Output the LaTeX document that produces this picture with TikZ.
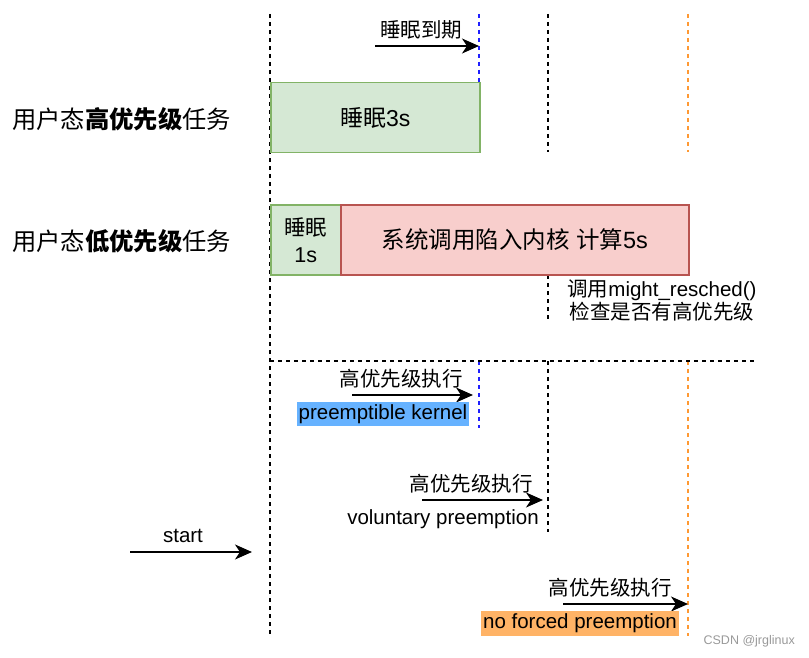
\documentclass[tikz,border=0pt]{standalone}
\usepackage{fontspec}
\setmainfont{Liberation Sans}
\newfontfamily\cjk{Noto Sans CJK SC}
\newcommand\zh[1]{{\cjk #1}}
\usetikzlibrary{arrows.meta}
\definecolor{gfill}{HTML}{D5E8D4}
\definecolor{gline}{HTML}{82B366}
\definecolor{rfill}{HTML}{F8CECC}
\definecolor{rline}{HTML}{B85450}
\definecolor{bline}{HTML}{2020FF}
\definecolor{oline}{HTML}{FF9933}
\definecolor{bbg}{HTML}{66B2FF}
\definecolor{obg}{HTML}{FFB366}
\begin{document}
\begin{tikzpicture}[x=1pt,y=-1pt,
  vline/.style={dash pattern=on 4pt off 4pt, line width=1.4pt},
  arr/.style={-{Stealth[length=17pt,width=15pt,inset=5pt]}, line width=1.8pt},
  lbl/.style={font=\fontsize{20.5}{23}\selectfont, inner sep=0pt},
  big/.style={font=\fontsize{24.3}{28}\selectfont, inner sep=0pt},
  gbox/.style={draw=gline, fill=gfill, line width=1.5pt, inner sep=0pt, anchor=north west, align=center},
  rbox/.style={draw=rline, fill=rfill, line width=1.5pt, inner sep=0pt, anchor=north west, align=center},
]
\useasboundingbox (0,0) rectangle (809,658);

% vertical and horizontal dashed lines
\coordinate (m0) at (270,14); \coordinate (m1) at (270,634);
\draw[vline] (m0) -- (m1);
\coordinate (b0) at (479,14); \coordinate (b1) at (479,152);
\coordinate (b2) at (479,361); \coordinate (b3) at (479,428);
\draw[vline, bline] (b0) -- (b1);
\draw[vline, bline] (b2) -- (b3);
\coordinate (k0) at (548,14); \coordinate (k1) at (548,152);
\coordinate (k2) at (548,275); \coordinate (k3) at (548,320);
\coordinate (k4) at (548,361); \coordinate (k5) at (548,532);
\draw[vline] (k0) -- (k1);
\draw[vline] (k2) -- (k3);
\draw[vline] (k4) -- (k5);
\coordinate (o0) at (688,14); \coordinate (o1) at (688,152);
\coordinate (o2) at (688,361); \coordinate (o3) at (688,636);
\draw[vline, oline] (o0) -- (o1);
\draw[vline, oline] (o2) -- (o3);
\coordinate (h0) at (270,361); \coordinate (h1) at (757,361);
\draw[vline] (h0) -- (h1);

% row labels
\node[big, anchor=west] (hp) at (12,119) {\zh{用户态\textbf{高优先级}任务}};
\node[big, anchor=west] (lp) at (12,241) {\zh{用户态\textbf{低优先级}任务}};

% high priority task
\node[gbox, minimum width=209pt, minimum height=70pt, font=\fontsize{23}{28}\selectfont] (s3) at (270,82) {\zh{睡眠}3s};
\coordinate (a0) at (375,46); \coordinate (a1) at (479,46);
\draw[arr] (a0) -- (a1);
\node[lbl] (t1) at (421,30) {\zh{睡眠到期}};

% low priority task
\node[gbox, minimum width=70pt, minimum height=70pt, font=\fontsize{21.5}{27}\selectfont] (s1) at (270,204) {\zh{睡眠}\\1s};
\node[rbox, minimum width=348pt, minimum height=70pt, font=\fontsize{23.5}{28}\selectfont] (sc) at (340,204) {\zh{系统调用陷入内核} \zh{计算}5s};
\node[lbl, align=center] (note) at (662,300) {\zh{调用}might\_resched()\\\zh{检查是否有高优先级}};

% preemptible kernel
\coordinate (p0) at (352,395); \coordinate (p1) at (473,395);
\draw[arr] (p0) -- (p1);
\node[lbl] (pt) at (401,379) {\zh{高优先级执行}};
\node[lbl, fill=bbg, minimum width=172pt, minimum height=24pt] (pk) at (383,414) {preemptible kernel};

% voluntary preemption
\coordinate (v0) at (422,500); \coordinate (v1) at (543,500);
\draw[arr] (v0) -- (v1);
\node[lbl] (vt) at (471,484) {\zh{高优先级执行}};
\node[lbl] (vp) at (443,519) {voluntary preemption};

% start
\coordinate (st0) at (130,552); \coordinate (st1) at (252,552);
\draw[arr] (st0) -- (st1);
\node[lbl] (stt) at (183,536) {start};

% no forced preemption
\coordinate (n0) at (563,604); \coordinate (n1) at (688,604);
\draw[arr] (n0) -- (n1);
\node[lbl] (nt) at (610,588) {\zh{高优先级执行}};
\node[lbl, fill=obg, minimum width=198pt, minimum height=25pt] (nf) at (580,623) {no forced preemption};

% watermark
\node[inner sep=0pt, anchor=east, text=black!40, font=\fontsize{12.5}{14}\selectfont] (wm) at (795,641) {CSDN @jrglinux};
\end{tikzpicture}
\end{document}
